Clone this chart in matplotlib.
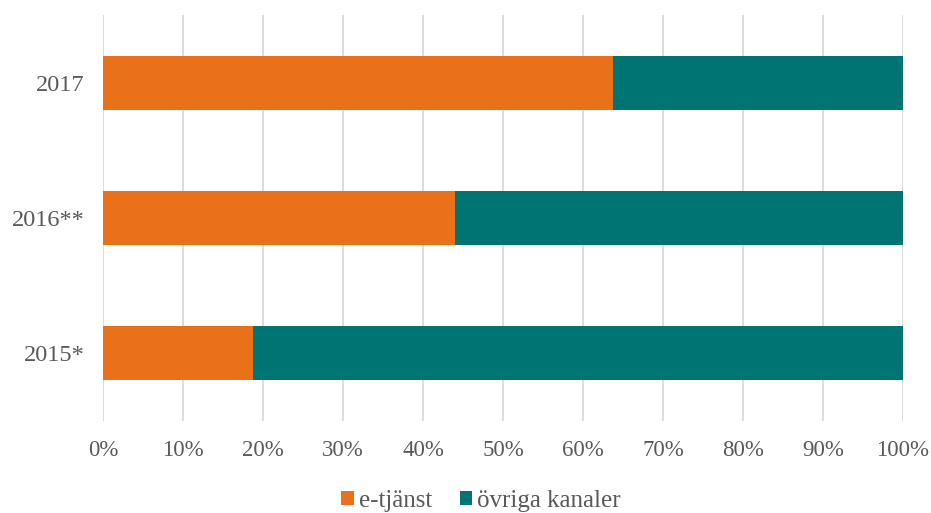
import matplotlib
matplotlib.use("Agg")
import matplotlib.pyplot as plt
from matplotlib.ticker import PercentFormatter

categories = ["2015*", "2016**", "2017"]
e_tjanst = [18.8, 44.0, 63.7]
ovriga = [81.2, 56.0, 36.3]
ticks = [0, 10, 20, 30, 40, 50, 60, 70, 80, 90, 100]

plt.rcParams['font.family'] = ['Liberation Serif', 'DejaVu Serif']
orange = "#E8711A"
teal = "#007373"
txt = "#595959"

fig = plt.figure(figsize=(9.31, 5.13), dpi=100)
ax = fig.add_axes([103/931, 1-421/513, 800/931, 406/513])
y = list(range(len(categories)))
ax.barh(y, e_tjanst, height=0.4, color=orange, label="e-tjänst", zorder=3)
ax.barh(y, ovriga, left=e_tjanst, height=0.4, color=teal, label="övriga kanaler", zorder=3)
ax.set_xlim(0, 100)
ax.set_ylim(-0.5, 2.5)
ax.set_yticks(y)
ax.set_yticklabels(categories)
ax.set_xticks(ticks)
ax.xaxis.set_major_formatter(PercentFormatter(decimals=0))
ax.grid(axis='x', color="#d9d9d9", linewidth=1.3, zorder=0)
for s in ax.spines.values():
    s.set_visible(False)
ax.tick_params(axis='both', length=0, colors=txt)
ax.tick_params(axis='x', pad=14, labelsize=16.5)
ax.tick_params(axis='y', pad=13, labelsize=17.5)
leg = fig.legend(loc='center', bbox_to_anchor=(481/931, 1-501/513), ncol=2, frameon=False,
                 fontsize=18, handlelength=0.5, handleheight=0.5, handletextpad=0.2,
                 columnspacing=1.1)
for t in leg.get_texts():
    t.set_color(txt)
fig.savefig("out.png", dpi=100)
